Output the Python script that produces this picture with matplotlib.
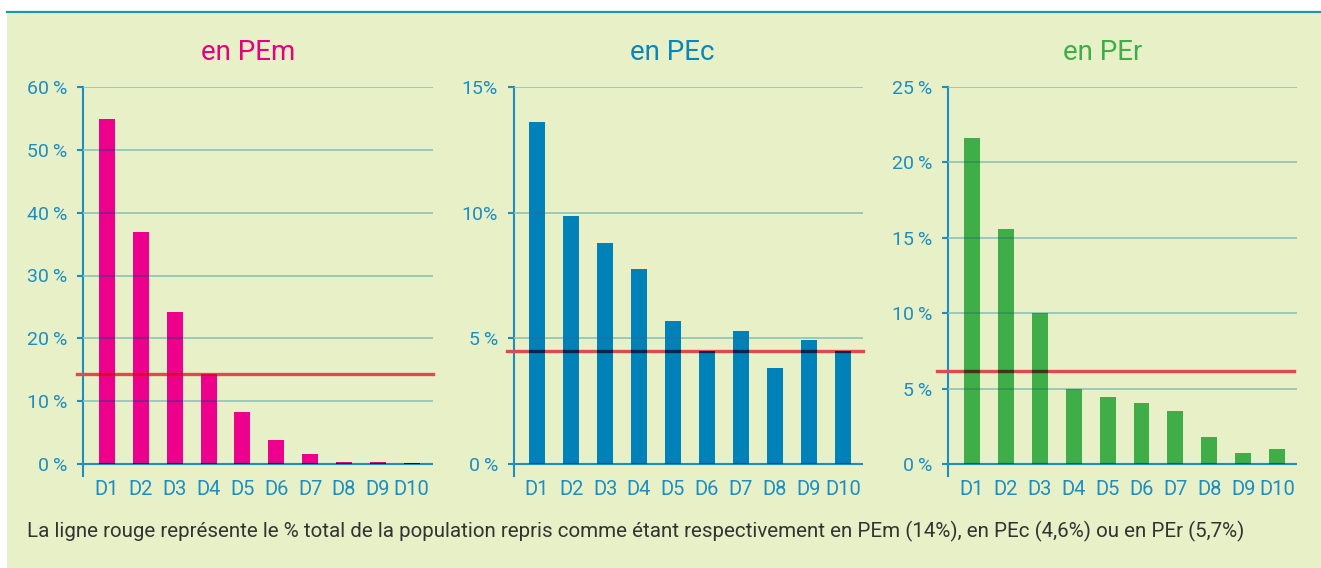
import numpy as np
import matplotlib
matplotlib.use("Agg")
import matplotlib.pyplot as plt
from matplotlib.colors import to_rgb
from matplotlib.patches import Rectangle
from matplotlib.lines import Line2D

# ---------------- data ----------------
deciles = ["D1", "D2", "D3", "D4", "D5", "D6", "D7", "D8", "D9", "D10"]
pem = [54.9, 36.9, 24.2, 14.3, 8.3, 3.8, 1.6, 0.3, 0.3, 0.1]
pec = [13.6, 9.85, 8.8, 7.75, 5.7, 4.5, 5.3, 3.8, 4.95, 4.5]
per = [21.6, 15.6, 10.0, 4.95, 4.45, 4.05, 3.5, 1.8, 0.75, 1.0]
ref_lines = [14.3, 4.5, 6.15]
titles = ["en PEm", "en PEc", "en PEr"]
yticks_list = [[0, 10, 20, 30, 40, 50, 60], [0, 5, 10, 15], [0, 5, 10, 15, 20, 25]]
yticklabels_list = [
    ["0\u2009%", "10\u2009%", "20\u2009%", "30\u2009%", "40\u2009%", "50\u2009%", "60\u2009%"],
    ["0\u2009%", "5\u2009%", "10%", "15%"],
    ["0\u2009%", "5\u2009%", "10\u2009%", "15\u2009%", "20\u2009%", "25\u2009%"],
]
caption = ("La ligne rouge représente le % total de la population repris comme étant "
           "respectivement en PEm (14%), en PEc (4,6%) ou en PEr (5,7%)")

# ---------------- style ----------------
W, H = 1321, 568
BG = "#E7F0C7"
BLUE_TXT = "#1E8EC0"
GRID_ON_BG = "#8CC3B8"
RED_ON_BG = "#DE4A50"
bar_colors = ["#EC008C", "#0082B8", "#3FAE49"]
title_colors = ["#E6007E", "#0A86B8", "#3FAE49"]
FONT = ["Roboto", "DejaVu Sans"]
plt.rcParams["font.family"] = FONT

bg_rgb = np.array(to_rgb(BG))


def multiply(color_on_bg, under):
    m = np.clip(np.array(to_rgb(color_on_bg)) / bg_rgb, 0, 1)
    return tuple(np.clip(np.array(to_rgb(under)) * m, 0, 1))


fig = plt.figure(figsize=(W / 100, H / 100), dpi=100)
fig.patch.set_facecolor("white")

# panel background and top rule
fig.patches.append(Rectangle((7 / W, 0), 1 - 7 / W, (H - 13) / H,
                             transform=fig.transFigure, facecolor=BG,
                             edgecolor="none", zorder=-10))
fig.lines.append(Line2D([7 / W, 1], [(H - 12) / H, (H - 12) / H],
                        transform=fig.transFigure, color="#1F95B0", lw=1.6, zorder=-9))

# axes pixel boxes: left, right
boxes = [(83, 433), (514, 863), (948, 1297)]
top_px, bot_px, zero_px = 87, 476, 464
xlims = [(-0.71, 9.63), (-0.68, 9.59), (-0.71, 9.59)]
red_span = [(-0.018, 1.0), (-0.02, 1.0), (-0.032, 0.99)]
title_x = [248, 672, 1103]
data = [pem, pec, per]

for k in range(3):
    l, r = boxes[k]
    ax = fig.add_axes([l / W, (H - bot_px) / H, (r - l) / W, (bot_px - top_px) / H])
    ax.set_facecolor("none")
    ax.set_zorder(2)
    vals = data[k]
    ymax = yticks_list[k][-1]
    frac = (bot_px - zero_px) / (bot_px - top_px)
    ax.set_ylim(-ymax * frac / (1 - frac), ymax)
    ax.set_xlim(*xlims[k])
    x = np.arange(len(deciles))
    bars = ax.bar(x, vals, width=0.47, color=bar_colors[k], zorder=2, linewidth=0)

    # gridlines (multiply-like blending over bars)
    for yt in yticks_list[k][1:]:
        ax.axhline(yt, color=GRID_ON_BG, lw=1.2, zorder=3)
        for p in bars:
            ln = ax.axhline(yt, color=multiply(GRID_ON_BG, bar_colors[k]), lw=1.2, zorder=3.1)
            ln.set_clip_path(p)
    # zero line
    ax.axhline(0, color=BLUE_TXT, lw=1.5, zorder=3)
    for p in bars:
        ln = ax.axhline(0, color=multiply(BLUE_TXT, bar_colors[k]), lw=1.5, zorder=3.1)
        ln.set_clip_path(p)
    # red reference line
    x0, x1 = red_span[k]
    ax.axhline(ref_lines[k], xmin=x0, xmax=x1, color=RED_ON_BG, lw=2.4, zorder=4, clip_on=False)
    for p in bars:
        ln = ax.axhline(ref_lines[k], color=multiply(RED_ON_BG, bar_colors[k]), lw=2.4, zorder=4.1)
        ln.set_clip_path(p)

    for s in ["top", "right", "bottom"]:
        ax.spines[s].set_visible(False)
    ax.spines["left"].set_color(BLUE_TXT)
    ax.spines["left"].set_linewidth(1.5)
    ax.set_yticks(yticks_list[k])
    ax.set_yticklabels(yticklabels_list[k], fontsize=14)
    ax.tick_params(axis="y", colors=BLUE_TXT, length=4.5, width=1.5, pad=7)
    ax.set_xticks(x)
    ax.set_xticklabels(deciles, fontsize=14.5)
    ax.tick_params(axis="x", colors=BLUE_TXT, length=0, pad=3)
    for t in ax.get_xticklabels() + ax.get_yticklabels():
        t.set_color(BLUE_TXT)

    fig.text(title_x[k] / W, (H - 60) / H, titles[k], color=title_colors[k],
             fontsize=20, ha="center", va="baseline")

# caption, fitted to reference width
cap = fig.text(27 / W, (H - 531) / H, caption, color="#333333", fontsize=11,
               ha="left", va="center")
fig.canvas.draw()
w = cap.get_window_extent(renderer=fig.canvas.get_renderer()).width
cap.set_fontsize(11 * 1212 / w)

fig.savefig("out.png", dpi=100, facecolor="white")
